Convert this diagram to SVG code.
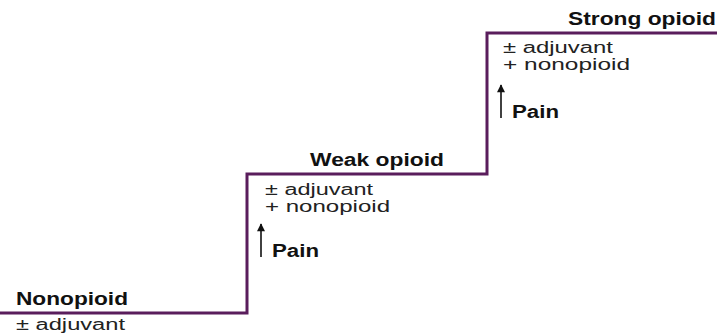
<svg xmlns="http://www.w3.org/2000/svg" width="717" height="333" viewBox="0 0 717 333">
<defs>
<style>
.step{fill:none;stroke:#5a1d5c;stroke-width:3;stroke-linejoin:miter}
.h{font-family:"Liberation Sans",Arial,sans-serif;font-weight:bold;font-size:18px;fill:#111}
.t{font-family:"Liberation Sans",Arial,sans-serif;font-size:16px;fill:#222}
.arr{stroke:#111;stroke-width:1.6;fill:none}
</style>
<marker id="ah" viewBox="0 0 10 10" refX="9" refY="5" markerWidth="9" markerHeight="8" orient="auto" markerUnits="userSpaceOnUse">
<path d="M0,0 L10,5 L0,10 Z" fill="#111"/>
</marker>
</defs>
<g id="connectors">
<path class="step" d="M0,313 H247 V174 H487 V33 H717"/>
<line class="arr" x1="261" y1="257" x2="261" y2="224" marker-end="url(#ah)"/>
<line class="arr" x1="501" y1="118" x2="501" y2="85" marker-end="url(#ah)"/>
</g>
<g id="step1">
<text class="h" x="16" y="305" textLength="112" lengthAdjust="spacingAndGlyphs">Nonopioid</text>
<text class="t" x="16" y="330" textLength="109" lengthAdjust="spacingAndGlyphs">± adjuvant</text>
</g>
<g id="step2">
<text class="h" x="310" y="166" textLength="134" lengthAdjust="spacingAndGlyphs">Weak opioid</text>
<text class="t" x="265" y="195" textLength="108" lengthAdjust="spacingAndGlyphs">± adjuvant</text>
<text class="t" x="265" y="212" textLength="125" lengthAdjust="spacingAndGlyphs">+  nonopioid</text>
<text class="h" x="272" y="257" textLength="47" lengthAdjust="spacingAndGlyphs">Pain</text>
</g>
<g id="step3">
<text class="h" x="568" y="25" textLength="148" lengthAdjust="spacingAndGlyphs">Strong opioid</text>
<text class="t" x="503" y="53" textLength="110" lengthAdjust="spacingAndGlyphs">± adjuvant</text>
<text class="t" x="503" y="70" textLength="127" lengthAdjust="spacingAndGlyphs">+  nonopioid</text>
<text class="h" x="512" y="118" textLength="47" lengthAdjust="spacingAndGlyphs">Pain</text>
</g>
</svg>
